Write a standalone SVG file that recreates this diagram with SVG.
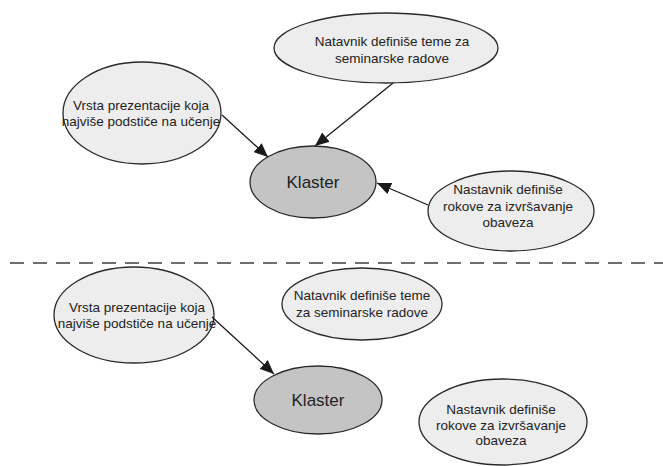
<svg xmlns="http://www.w3.org/2000/svg" width="663" height="466" viewBox="0 0 663 466">
<defs>
<marker id="arr" markerUnits="userSpaceOnUse" markerWidth="14" markerHeight="12" refX="14" refY="6" orient="auto">
<path d="M0,0 L14,6 L0,12 Z" fill="#1a1a1a"/>
</marker>
<style>
.n{fill:#ededed;stroke:#2a2a2a;stroke-width:1.3}
.k{fill:#c4c4c4;stroke:#2a2a2a;stroke-width:1.3}
.t{font-family:"Liberation Sans",Arial,sans-serif;font-size:13.5px;fill:#222;text-anchor:middle}
.kt{font-family:"Liberation Sans",Arial,sans-serif;font-size:17px;fill:#222;text-anchor:middle}
.c{stroke:#1a1a1a;stroke-width:1.3;fill:none;marker-end:url(#arr)}
</style>
</defs>
<rect width="663" height="466" fill="#fff"/>
<g id="top-vrsta">
<ellipse class="n" cx="142" cy="113" rx="79" ry="51"/>
<text class="t" x="141" y="110">Vrsta prezentacije koja</text>
<text class="t" x="141" y="125.5">najviše podstiče na učenje</text>
</g>
<g id="top-teme">
<ellipse class="n" cx="386" cy="48" rx="112" ry="35"/>
<text class="t" x="392" y="46">Natavnik definiše teme za</text>
<text class="t" x="392" y="63">seminarske radove</text>
</g>
<g id="top-klaster">
<ellipse class="k" cx="313" cy="182" rx="63" ry="36"/>
<text class="kt" x="313" y="188">Klaster</text>
</g>
<g id="top-rokove">
<ellipse class="n" cx="511" cy="211" rx="83" ry="40"/>
<text class="t" x="508" y="194">Nastavnik definiše</text>
<text class="t" x="508" y="210.5">rokove za izvršavanje</text>
<text class="t" x="508" y="227">obaveza</text>
</g>
<g id="bottom-vrsta">
<ellipse class="n" cx="134" cy="315" rx="80" ry="48"/>
<text class="t" x="137" y="312">Vrsta prezentacije koja</text>
<text class="t" x="137" y="328">najviše podstiče na učenje</text>
</g>
<g id="bottom-teme">
<ellipse class="n" cx="362" cy="304" rx="80" ry="36"/>
<text class="t" x="362" y="300">Natavnik definiše teme</text>
<text class="t" x="362" y="317">za seminarske radove</text>
</g>
<g id="bottom-klaster">
<ellipse class="k" cx="318" cy="400" rx="64" ry="34"/>
<text class="kt" x="318" y="406">Klaster</text>
</g>
<g id="bottom-rokove">
<ellipse class="n" cx="503" cy="422" rx="84" ry="43"/>
<text class="t" x="501" y="414">Nastavnik definiše</text>
<text class="t" x="501" y="429.5">rokove za izvršavanje</text>
<text class="t" x="501" y="445">obaveza</text>
</g>
<g id="connectors">
<line class="c" x1="222" y1="115" x2="268" y2="157"/>
<line class="c" x1="393" y1="83" x2="315" y2="146"/>
<line class="c" x1="428" y1="205" x2="377" y2="183"/>
<line class="c" x1="212" y1="317" x2="274" y2="374"/>
</g>
<line x1="10" y1="263" x2="663" y2="263" stroke="#6e6e6e" stroke-width="2" stroke-dasharray="14,9"/>
</svg>
